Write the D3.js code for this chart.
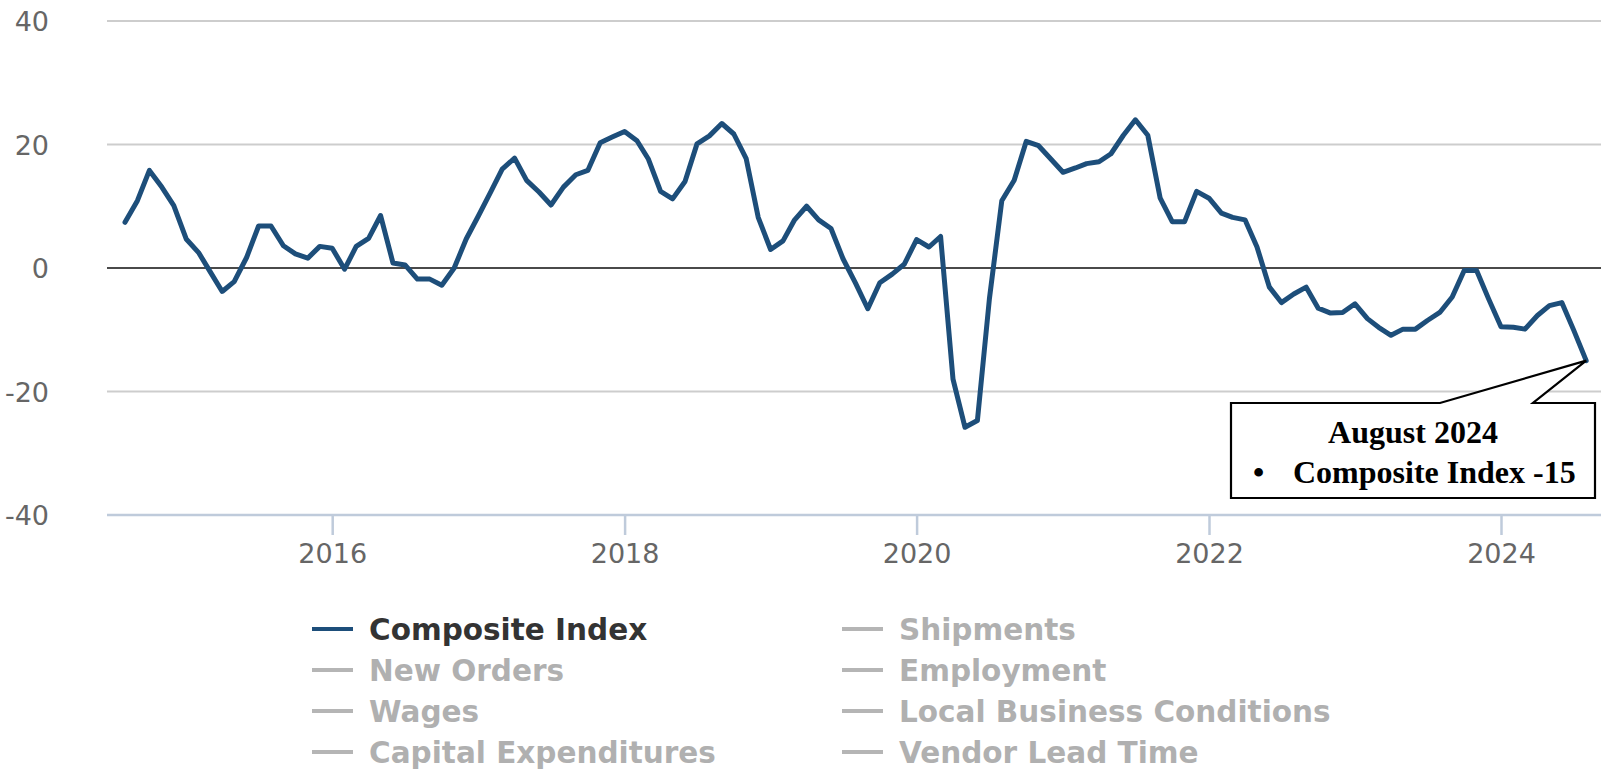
<!DOCTYPE html>
<html>
<head>
<meta charset="utf-8">
<script src="https://cdn.jsdelivr.net/npm/d3@7"></script>
<style>
  html, body { margin: 0; padding: 0; background: #fff; }
  svg { display: block; }
</style>
</head>
<body>
<svg id="chart" width="1606" height="770"></svg>
<script>
// Monthly composite index, August 2014 through August 2024
const firstMonth = [2014, 7]; // year, zero-based month
const compositeIndex = [
  7.4, 10.9, 15.8, 13.1, 10.1, 4.7, 2.5, -0.5, -3.8, -2.2, 1.7, 6.8,
  6.8, 3.6, 2.3, 1.6, 3.5, 3.2, -0.2, 3.5, 4.8, 8.5, 0.8, 0.5,
  -1.8, -1.8, -2.8, 0, 4.7, 8.5, 12.4, 16, 17.8, 14.2, 12.3, 10.2,
  13.1, 15.1, 15.8, 20.3, 21.2, 22.1, 20.6, 17.7, 12.4, 11.2, 14, 20.1,
  21.4, 23.4, 21.7, 17.7, 8.2, 3, 4.4, 7.7, 10, 7.8, 6.4, 1.5,
  -2.4, -6.6, -2.4, -1, 0.6, 4.6, 3.4, 5.1, -18, -25.8, -24.7, -5,
  10.9, 14.2, 20.5, 19.8, 17.7, 15.5, 16.2, 16.9, 17.2, 18.5, 21.5, 24,
  21.5, 11.3, 7.5, 7.5, 12.4, 11.3, 8.9, 8.2, 7.8, 3.4, -3.1, -5.6,
  -4.2, -3.1, -6.5, -7.3, -7.2, -5.8, -8.2, -9.6, -10.9, -9.9, -9.9, -8.5,
  -7.2, -4.7, -0.4, -0.4, -5, -9.5, -9.6, -9.9, -7.7, -6.1, -5.6, -10.1,
  -15
];
const yTickValues = [-40, -20, 0, 20, 40];
const xTickYears = [2016, 2018, 2020, 2022, 2024];
const legendColumns = [
  ["Composite Index", "New Orders", "Wages", "Capital Expenditures"],
  ["Shipments", "Employment", "Local Business Conditions", "Vendor Lead Time"]
];
const activeSeries = "Composite Index";
const calloutTitle = "August 2024";
const calloutSeries = "Composite Index";

const months = compositeIndex.map((v, i) =>
  d3.timeMonth.offset(new Date(firstMonth[0], firstMonth[1], 1), i));
const series = compositeIndex.map((v, i) => ({ date: months[i], value: v }));

const svg = d3.select("#chart");
const plot = { left: 107, right: 1601, top: 21, bottom: 515 };

const x = d3.scaleTime()
  .domain([new Date(2014, 5, 17), new Date(2024, 8, 7)])
  .range([plot.left, plot.right]);
const y = d3.scaleLinear()
  .domain([-40, 40])
  .range([plot.bottom, plot.top]);

const axisFont = "'DejaVu Sans', Verdana, sans-serif";

// horizontal grid lines
const grid = svg.append("g");
grid.selectAll("line")
  .data(yTickValues.filter(v => v !== -40))
  .join("line")
  .attr("x1", plot.left).attr("x2", plot.right)
  .attr("y1", d => y(d)).attr("y2", d => y(d))
  .attr("stroke", d => d === 0 ? "#4a4a4a" : "#cdcdcd")
  .attr("stroke-width", 2);

// y axis labels
const yAxis = d3.axisLeft(y).tickValues(yTickValues).tickSize(0).tickPadding(0)
  .tickFormat(d => String(d));
const yg = svg.append("g").attr("transform", "translate(49,0)").call(yAxis);
yg.select(".domain").remove();
yg.selectAll("text")
  .attr("font-family", axisFont).attr("font-size", 27).attr("fill", "#666")
  .attr("dy", "0.36em");

// bottom x axis
const xAxis = d3.axisBottom(x)
  .tickValues(xTickYears.map(yr => new Date(yr, 0, 1)))
  .tickSize(20).tickPadding(8)
  .tickFormat(d3.timeFormat("%Y"));
const xg = svg.append("g").attr("transform", `translate(0,${plot.bottom})`).call(xAxis);
xg.select(".domain")
  .attr("d", `M${plot.left},0H${plot.right}`)
  .attr("stroke", "#bfcbdb").attr("stroke-width", 2.5);
xg.selectAll(".tick line").attr("stroke", "#bfcbdb").attr("stroke-width", 2.5);
xg.selectAll(".tick text")
  .attr("font-family", axisFont).attr("font-size", 27).attr("fill", "#666")
  .attr("dy", "0.75em");

// composite index line
const line = d3.line().x(d => x(d.date)).y(d => y(d.value));
svg.append("path")
  .datum(series)
  .attr("d", line)
  .attr("fill", "none")
  .attr("stroke", "#1d4e7a")
  .attr("stroke-width", 5)
  .attr("stroke-linejoin", "round")
  .attr("stroke-linecap", "round");

// legend
const legendFont = "'DejaVu Sans', Verdana, sans-serif";
const legendCol = [312, 842];
const legendRow0 = 629, legendRowStep = 41;
legendColumns.forEach((items, c) => {
  items.forEach((name, r) => {
    const active = name === activeSeries;
    const cy = legendRow0 + r * legendRowStep;
    const g = svg.append("g");
    g.append("line")
      .attr("x1", legendCol[c]).attr("x2", legendCol[c] + 41)
      .attr("y1", cy).attr("y2", cy)
      .attr("stroke", active ? "#1d4e7a" : "#b5b5b5")
      .attr("stroke-width", 4);
    g.append("text")
      .attr("x", legendCol[c] + 57).attr("y", cy)
      .attr("dy", "0.36em")
      .attr("font-family", legendFont).attr("font-weight", "bold")
      .attr("font-size", 29.5)
      .attr("fill", active ? "#333" : "#b0b0b0")
      .text(name);
  });
});

// callout for the latest reading
const last = series[series.length - 1];
const tipX = x(last.date), tipY = y(last.value);
const box = { left: 1231, right: 1595, top: 403, bottom: 498 };
const notchA = 1440, notchB = 1533;
const callout = svg.append("g");
callout.append("path")
  .attr("d", `M${box.left},${box.top}H${notchA}L${tipX},${tipY}L${notchB},${box.top}` +
             `H${box.right}V${box.bottom}H${box.left}Z`)
  .attr("fill", "#fff").attr("stroke", "#000").attr("stroke-width", 2.2)
  .attr("stroke-linejoin", "miter");
const serif = "'Liberation Serif', 'Times New Roman', serif";
callout.append("text")
  .attr("x", (box.left + box.right) / 2).attr("y", 443)
  .attr("text-anchor", "middle")
  .attr("font-family", serif).attr("font-weight", "bold").attr("font-size", 32)
  .attr("fill", "#000")
  .text(calloutTitle);
callout.append("text")
  .attr("x", 1253).attr("y", 483)
  .attr("font-family", serif).attr("font-weight", "bold").attr("font-size", 32)
  .attr("fill", "#000")
  .text("\u2022");
callout.append("text")
  .attr("x", 1293).attr("y", 483)
  .attr("font-family", serif).attr("font-weight", "bold").attr("font-size", 32)
  .attr("fill", "#000")
  .text(`${calloutSeries} ${last.value}`);
</script>
</body>
</html>
